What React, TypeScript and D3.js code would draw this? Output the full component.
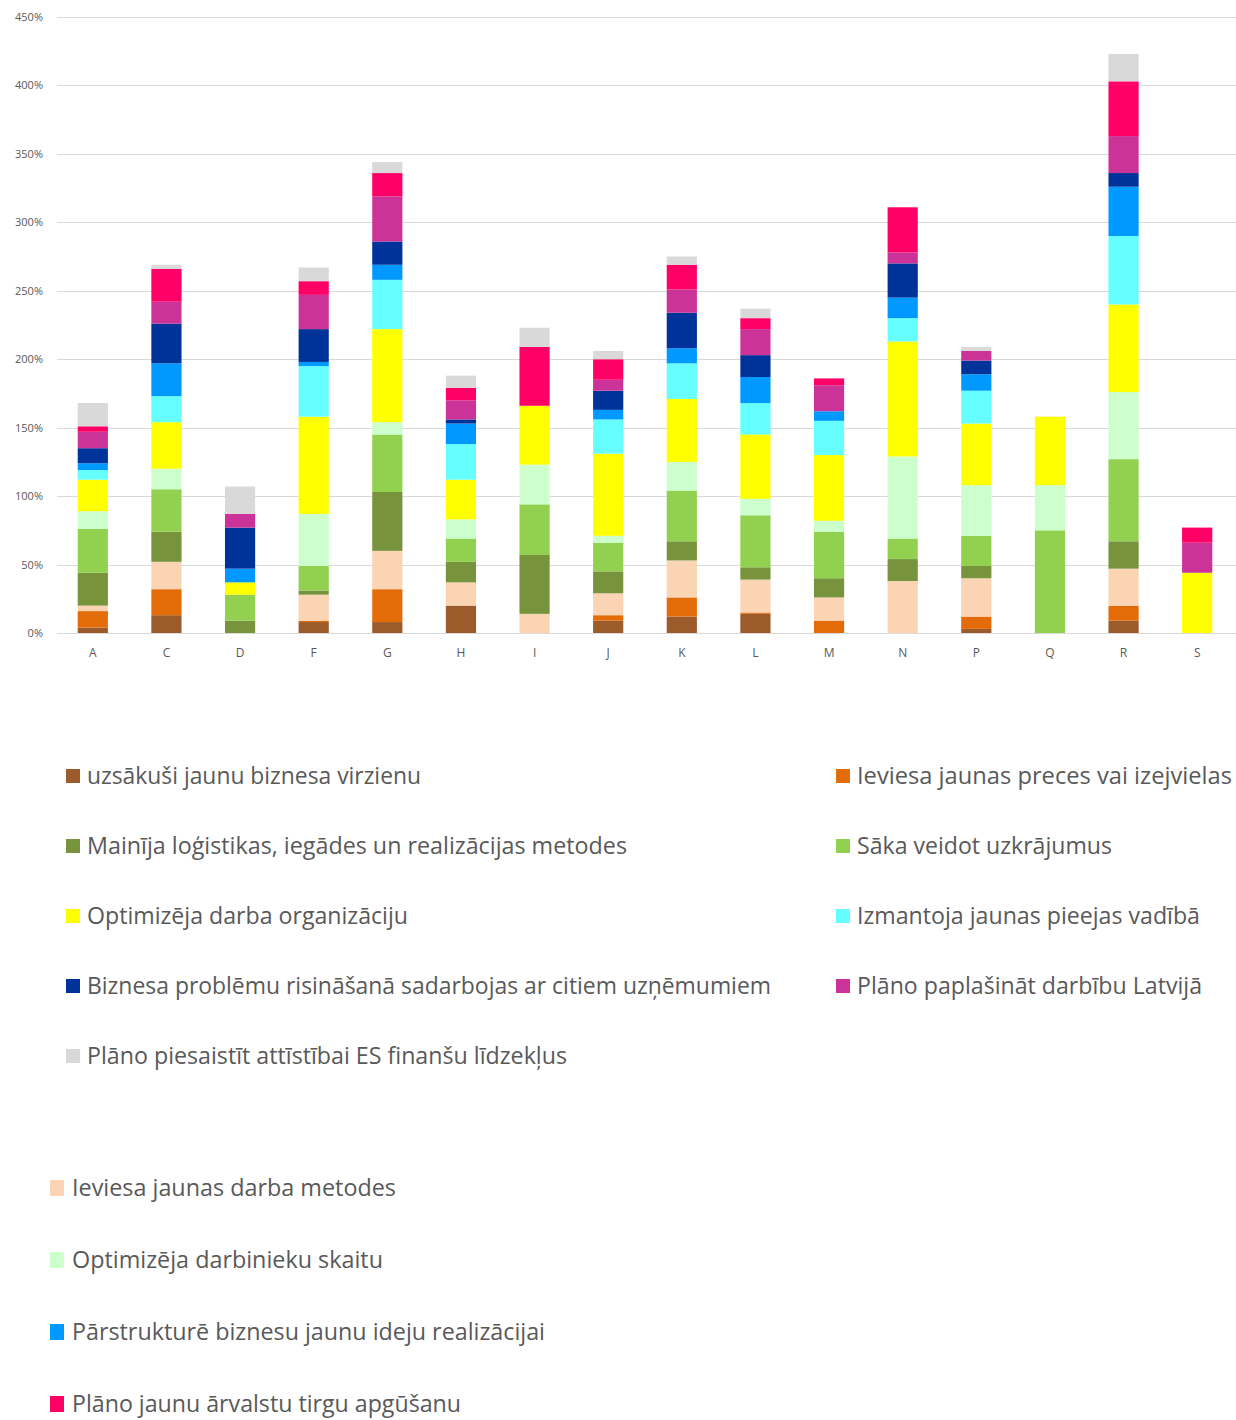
import React, { useEffect, useRef } from "react";
import * as d3 from "d3";

const categories = ["A", "C", "D", "F", "G", "H", "I", "J", "K", "L", "M", "N", "P", "Q", "R", "S"];

const seriesNames = [
  "uzsākuši jaunu biznesa virzienu",
  "Ieviesa  jaunas preces vai izejvielas",
  "Ieviesa jaunas darba metodes",
  "Mainīja loģistikas, iegādes un realizācijas metodes",
  "Sāka veidot uzkrājumus",
  "Optimizēja darbinieku skaitu",
  "Optimizēja darba organizāciju",
  "Izmantoja jaunas pieejas vadībā",
  "Pārstrukturē biznesu jaunu ideju realizācijai",
  "Biznesa problēmu risināšanā sadarbojas ar citiem uzņēmumiem",
  "Plāno paplašināt darbību Latvijā",
  "Plāno jaunu ārvalstu tirgu apgūšanu",
  "Plāno piesaistīt attīstībai ES finanšu līdzekļus",
];

const seriesColors = [
  "#9C5B2B", "#E36C09", "#FBD4B4", "#77933C", "#92D050", "#CCFFCC", "#FFFF00",
  "#66FFFF", "#0099FF", "#003399", "#CC3399", "#FF0066", "#D9D9D9",
];

// values in percent, per category (order of `categories`)
const uzsakusi = [4, 13, 0, 8, 8, 20, 0, 9, 12, 14, 0, 0, 3, 0, 9, 0];
const precesIzejvielas = [12, 19, 0, 1, 24, 0, 0, 4, 14, 1, 9, 0, 9, 0, 11, 0];
const darbaMetodes = [4, 20, 0, 19, 28, 17, 14, 16, 27, 24, 17, 38, 28, 0, 27, 0];
const logistika = [24, 22, 9, 3, 43, 15, 43, 16, 14, 9, 14, 16, 9, 0, 20, 0];
const uzkrajumi = [32, 31, 19, 18, 42, 17, 37, 21, 37, 38, 34, 15, 22, 75, 60, 0];
const darbinieki = [13, 15, 0, 38, 9, 14, 29, 5, 21, 12, 8, 60, 37, 33, 49, 0];
const organizacija = [23, 34, 9, 71, 68, 29, 43, 60, 46, 47, 48, 84, 45, 50, 64, 44];
const vadiba = [7, 19, 0, 37, 36, 26, 0, 25, 26, 23, 25, 17, 24, 0, 50, 0];
const parstrukture = [5, 24, 10, 3, 11, 15, 0, 7, 11, 19, 7, 15, 12, 0, 36, 0];
const sadarbiba = [11, 29, 30, 24, 17, 3, 0, 14, 26, 16, 0, 25, 10, 0, 10, 0];
const latvija = [12, 16, 10, 25, 33, 14, 0, 8, 17, 19, 19, 8, 7, 0, 27, 22];
const arvalstis = [4, 24, 0, 10, 17, 9, 43, 15, 18, 8, 5, 33, 0, 0, 40, 11];
const esFinanses = [17, 3, 20, 10, 8, 9, 14, 6, 6, 7, 0, 0, 3, 0, 20, 0];

const seriesValues = [
  uzsakusi, precesIzejvielas, darbaMetodes, logistika, uzkrajumi, darbinieki,
  organizacija, vadiba, parstrukture, sadarbiba, latvija, arvalstis, esFinanses,
];

const yTicks = [0, 50, 100, 150, 200, 250, 300, 350, 400, 450];

// legend layout: [seriesIndex, column, row]
const legendTop = [
  [0, 0, 0], [1, 1, 0],
  [3, 0, 1], [4, 1, 1],
  [6, 0, 2], [7, 1, 2],
  [9, 0, 3], [10, 1, 3],
  [12, 0, 4],
];
const legendBottom = [2, 5, 8, 11];
const legendWidths: Record<number, number> = {
  0: 334, 1: 375, 3: 540, 4: 255, 6: 321, 7: 343, 9: 684, 10: 345, 12: 480,
  2: 324, 5: 311, 8: 473, 11: 389,
};

export default function App() {
  const ref = useRef<SVGSVGElement>(null);

  useEffect(() => {
    const svg = d3.select(ref.current);
    svg.selectAll("*").remove();

    const W = 1236;
    const x = d3.scaleBand().domain(categories).range([56, 1234]).paddingInner(0.59).paddingOuter(0.295);
    const y = d3.scaleLinear().domain([0, 450]).range([633, 17]);

    const table = categories.map((c, i) => {
      const row: any = { cat: c };
      seriesNames.forEach((_, s) => (row["s" + s] = seriesValues[s][i]));
      return row;
    });
    const keys = seriesNames.map((_, s) => "s" + s);
    const stacked = d3.stack().keys(keys)(table);

    // gridlines
    const g = svg.append("g");
    g.selectAll("line.grid")
      .data(yTicks)
      .join("line")
      .attr("x1", 57)
      .attr("x2", W)
      .attr("y1", (d) => Math.round(y(d)) + 0.5)
      .attr("y2", (d) => Math.round(y(d)) + 0.5)
      .attr("stroke", "#D9D9D9")
      .attr("stroke-width", 1);

    g.selectAll("text.ytick")
      .data(yTicks)
      .join("text")
      .attr("x", 43)
      .attr("y", (d) => y(d) + 4)
      .attr("text-anchor", "end")
      .attr("font-family", "'Open Sans', sans-serif")
      .attr("font-size", 11)
      .attr("fill", "#595959")
      .text((d) => d + "%");

    // bars
    stacked.forEach((layer, s) => {
      svg.append("g")
        .attr("fill", seriesColors[s])
        .selectAll("rect")
        .data(layer)
        .join("rect")
        .attr("x", (d: any) => x(d.data.cat)!)
        .attr("width", x.bandwidth())
        .attr("y", (d) => y(d[1]))
        .attr("height", (d) => Math.max(0, y(d[0]) - y(d[1])));
    });

    // category labels
    svg.append("g")
      .selectAll("text")
      .data(categories)
      .join("text")
      .attr("x", (d) => x(d)! + x.bandwidth() / 2)
      .attr("y", 657)
      .attr("text-anchor", "middle")
      .attr("font-family", "'Open Sans', sans-serif")
      .attr("font-size", 12)
      .attr("fill", "#595959")
      .text((d) => d);

    // legend top block
    const lt = svg.append("g");
    legendTop.forEach(([s, col, row]) => {
      const cy = 776 + row * 70;
      const mx = col === 0 ? 66 : 836;
      const tx = col === 0 ? 87 : 857;
      lt.append("rect").attr("x", mx).attr("y", cy - 7).attr("width", 14).attr("height", 14).attr("fill", seriesColors[s]);
      lt.append("text")
        .attr("x", tx)
        .attr("y", cy + 8)
        .attr("font-family", "'Open Sans', sans-serif")
        .attr("font-size", 23)
        .attr("fill", "#595959")
        .attr("textLength", legendWidths[s])
        .attr("lengthAdjust", "spacingAndGlyphs")
        .text(seriesNames[s]);
    });

    const lb = svg.append("g");
    legendBottom.forEach((s, row) => {
      const cy = 1188 + row * 72;
      lb.append("rect").attr("x", 50).attr("y", cy - 8).attr("width", 14).attr("height", 16).attr("fill", seriesColors[s]);
      lb.append("text")
        .attr("x", 72)
        .attr("y", cy + 8)
        .attr("font-family", "'Open Sans', sans-serif")
        .attr("font-size", 23)
        .attr("fill", "#595959")
        .attr("textLength", legendWidths[s])
        .attr("lengthAdjust", "spacingAndGlyphs")
        .text(s === 2 ? "Ieviesa jaunas darba metodes" : seriesNames[s]);
    });
  }, []);

  return (
    <svg
      ref={ref}
      width={1236}
      height={1420}
      style={{ position: "absolute", left: 0, top: 0, background: "#fff" }}
    />
  );
}
